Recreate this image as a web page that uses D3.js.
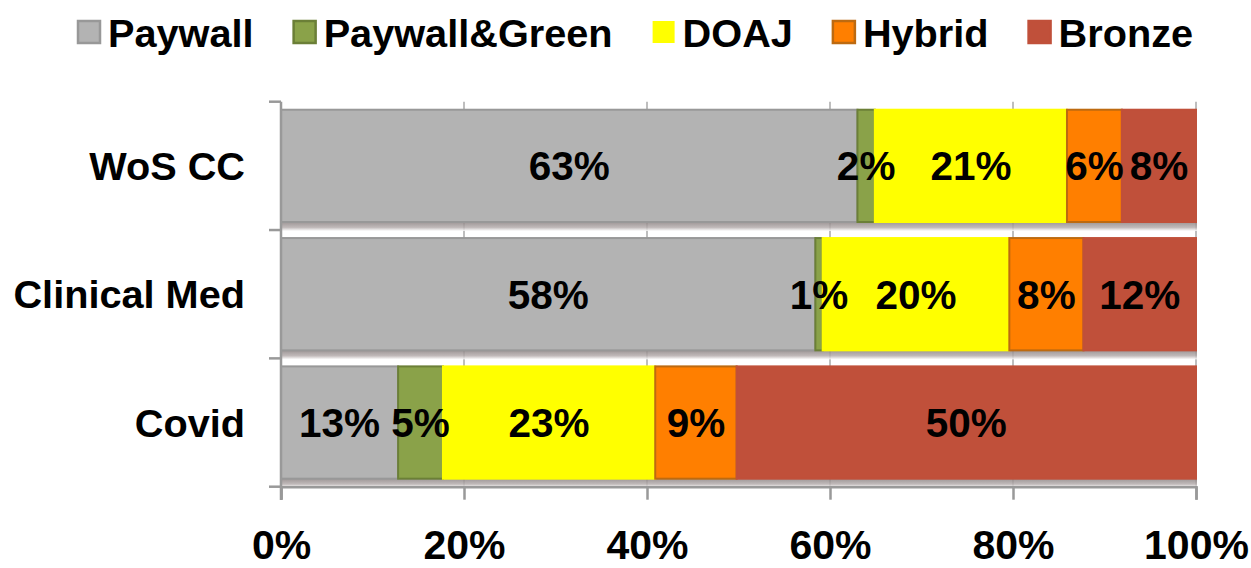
<!DOCTYPE html>
<html>
<head>
<meta charset="utf-8">
<script src="https://cdn.jsdelivr.net/npm/d3@7"></script>
<style>
  body { margin: 0; background: #fff; }
  text { font-family: "Liberation Sans", Arial, sans-serif; font-weight: bold; }
</style>
</head>
<body>
<script>
  const width = 1251;
  const height = 568;

  // data
  const categories = ["WoS CC", "Clinical Med", "Covid"];
  const seriesNames = ["Paywall", "Paywall&Green", "DOAJ", "Hybrid", "Bronze"];
  const paywall      = [63.0, 58.4, 12.8];
  const paywallGreen = [1.9, 0.8, 4.9];
  const doaj         = [21.0, 20.4, 23.2];
  const hybrid       = [6.0, 8.1, 8.9];
  const bronze       = [8.1, 12.3, 50.2];
  const xTicks = [0, 0.2, 0.4, 0.6, 0.8, 1];

  const fills   = ["#b3b3b3", "#8aa249", "#ffff00", "#ff7f00", "#c0503a"];
  const strokes = ["#989898", "#6b7f37", "#ffff00", "#bd6a10", "#c0503a"];

  const rows = categories.map((c, i) => ({
    cat: c,
    Paywall: paywall[i],
    "Paywall&Green": paywallGreen[i],
    DOAJ: doaj[i],
    Hybrid: hybrid[i],
    Bronze: bronze[i]
  }));
  const stack = d3.stack().keys(seriesNames)(rows);

  const x = d3.scaleLinear().domain([0, 100]).range([281, 1196]);
  const y = d3.scaleBand().domain(categories).range([101.7, 486.7])
    .paddingInner(0.125).paddingOuter(0.0625);

  const svg = d3.select("body").append("svg")
    .attr("width", width)
    .attr("height", height);

  const defs = svg.append("defs");
  const grad = defs.append("linearGradient")
    .attr("id", "shadow").attr("x1", 0).attr("y1", 0).attr("x2", 0).attr("y2", 1);
  grad.append("stop").attr("offset", "0%").attr("stop-color", "#8d8484");
  grad.append("stop").attr("offset", "60%").attr("stop-color", "#b5adad");
  grad.append("stop").attr("offset", "100%").attr("stop-color", "#ffffff");

  // gridlines (behind bars)
  svg.append("g").selectAll("line")
    .data(xTicks.slice(1))
    .join("line")
    .attr("x1", d => x(d * 100)).attr("x2", d => x(d * 100))
    .attr("y1", 101.7).attr("y2", 486.7)
    .attr("stroke", "#a8a8a8").attr("stroke-width", 1.5);

  // bar shadows
  svg.append("g").selectAll("rect")
    .data(categories)
    .join("rect")
    .attr("x", x(0) + 1)
    .attr("y", d => y(d) + y.bandwidth())
    .attr("width", x(100) - x(0))
    .attr("height", 9)
    .attr("fill", "url(#shadow)")
    .attr("opacity", 0.85);

  // bars
  svg.append("g").selectAll("g")
    .data(stack)
    .join("g")
    .attr("fill", (d, i) => fills[i])
    .attr("stroke", (d, i) => strokes[i])
    .attr("stroke-width", 2)
    .selectAll("rect")
    .data(d => d)
    .join("rect")
    .attr("x", d => x(d[0]))
    .attr("y", d => y(d.data.cat))
    .attr("width", d => x(d[1]) - x(d[0]))
    .attr("height", y.bandwidth());

  // value labels
  svg.append("g").selectAll("g")
    .data(stack)
    .join("g")
    .selectAll("text")
    .data(d => d)
    .join("text")
    .attr("x", d => (x(d[0]) + x(d[1])) / 2)
    .attr("y", d => y(d.data.cat) + y.bandwidth() / 2)
    .attr("dy", "0.36em")
    .attr("text-anchor", "middle")
    .attr("font-size", 40.5)
    .attr("fill", "#000")
    .text(d => Math.round(d[1] - d[0]) + "%");

  // y axis
  const yAxis = svg.append("g");
  yAxis.append("line")
    .attr("x1", x(0)).attr("x2", x(0))
    .attr("y1", 101.7).attr("y2", 500)
    .attr("stroke", "#999").attr("stroke-width", 2.5);
  const boundaries = d3.range(categories.length + 1).map(i => 101.7 + i * y.step());
  yAxis.selectAll("line.tick")
    .data(boundaries)
    .join("line")
    .attr("class", "tick")
    .attr("x1", x(0) - 12).attr("x2", x(0))
    .attr("y1", d => d).attr("y2", d => d)
    .attr("stroke", "#999").attr("stroke-width", 2.5);
  yAxis.selectAll("text")
    .data(categories)
    .join("text")
    .attr("x", 245)
    .attr("y", d => y(d) + y.bandwidth() / 2)
    .attr("dy", "0.36em")
    .attr("text-anchor", "end")
    .attr("font-size", 39.7)
    .text(d => d);

  // x axis
  const xAxis = svg.append("g").attr("transform", "translate(0,486.7)")
    .call(d3.axisBottom(x).tickValues(xTicks.map(t => t * 100))
      .tickFormat(d => d + "%").tickSize(13).tickPadding(30));
  xAxis.select(".domain").attr("stroke", "#999").attr("stroke-width", 2.5);
  xAxis.selectAll(".tick line").attr("stroke", "#999").attr("stroke-width", 2.5);
  xAxis.selectAll(".tick text")
    .attr("font-size", 41)
    .attr("font-family", "'Liberation Sans', Arial, sans-serif")
    .attr("font-weight", "bold")
    .attr("fill", "#000");

  // legend
  const legend = svg.append("g");
  let lx = 78;
  seriesNames.forEach((name, i) => {
    legend.append("rect")
      .attr("x", lx).attr("y", 21)
      .attr("width", 22).attr("height", 22)
      .attr("fill", fills[i])
      .attr("stroke", i === 2 ? "none" : strokes[i])
      .attr("stroke-width", 2.5);
    const t = legend.append("text")
      .attr("x", lx + 30).attr("y", 47)
      .attr("font-size", 39.7)
      .text(name);
    lx += 30 + t.node().getComputedTextLength() + 40;
  });
</script>
</body>
</html>
